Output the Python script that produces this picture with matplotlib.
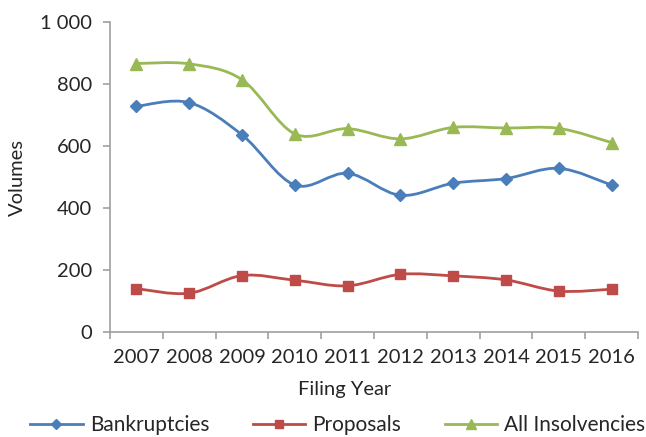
import numpy as np
import matplotlib
matplotlib.use("Agg")
import matplotlib.pyplot as plt
from matplotlib.path import Path
from matplotlib.patches import PathPatch
from matplotlib.lines import Line2D

years = ["2007", "2008", "2009", "2010", "2011", "2012", "2013", "2014", "2015", "2016"]
bankruptcies = [728, 740, 636, 474, 512, 441, 480, 495, 528, 474]
proposals = [140, 125, 182, 167, 149, 186, 181, 168, 132, 138]
all_insolvencies = [866, 865, 814, 639, 656, 623, 660, 658, 657, 611]
series_names = ["Bankruptcies", "Proposals", "All Insolvencies"]
colors = ["#4A7EBB", "#BE4B48", "#98B954"]
markers = ["D", "s", "^"]
msizes = [6, 7, 8]

plt.rcParams['font.family'] = ['Lato', 'DejaVu Sans']
text_color = "#262626"
axis_color = "#A0A0A0"
FS = 14.5

fig = plt.figure(figsize=(6.46, 4.37), dpi=100)
ax = fig.add_axes([110/646, 1-332/437, 528/646, 310/437])

x = np.arange(len(years))


def smooth_path(xs, ys):
    # Excel-style smoothed line: cubic Bezier with Catmull-Rom control points
    xs = np.asarray(xs, float)
    ys = np.asarray(ys, float)
    n = len(xs)
    verts = [(xs[0], ys[0])]
    codes = [Path.MOVETO]
    for i in range(n - 1):
        p0 = np.array([xs[max(i - 1, 0)], ys[max(i - 1, 0)]])
        p1 = np.array([xs[i], ys[i]])
        p2 = np.array([xs[i + 1], ys[i + 1]])
        p3 = np.array([xs[min(i + 2, n - 1)], ys[min(i + 2, n - 1)]])
        c1 = p1 + (p2 - p0) / 6.0
        c2 = p2 - (p3 - p1) / 6.0
        verts += [tuple(c1), tuple(c2), tuple(p2)]
        codes += [Path.CURVE4] * 3
    return Path(verts, codes)


for vals, name, c, m, ms in zip([bankruptcies, proposals, all_insolvencies],
                                series_names, colors, markers, msizes):
    patch = PathPatch(smooth_path(x, vals), facecolor="none", edgecolor=c, lw=2, zorder=2)
    ax.add_patch(patch)
    ax.plot(x, vals, linestyle="None", marker=m, markersize=ms,
            markerfacecolor=c, markeredgecolor=c, label=name, zorder=3)

ax.set_xlim(-0.5, len(years) - 0.5)
ax.set_ylim(0, 1000)
ax.set_yticks([0, 200, 400, 600, 800, 1000])
ax.set_yticklabels(["0", "200", "400", "600", "800", "1 000"])
ax.set_xticks(x)
ax.set_xticklabels(years)
ax.set_xticks(np.arange(-0.5, len(years)), minor=True)
ax.tick_params(axis="x", which="major", length=0, pad=12, labelsize=FS, colors=text_color)
ax.tick_params(axis="x", which="minor", length=5, color=axis_color, width=1.2)
ax.tick_params(axis="y", length=5, color=axis_color, width=1.2, labelsize=FS,
               colors=text_color, pad=8)
for s in ["top", "right"]:
    ax.spines[s].set_visible(False)
for s in ["left", "bottom"]:
    ax.spines[s].set_color(axis_color)
    ax.spines[s].set_linewidth(1.2)

ax.set_xlabel("Filing Year", fontsize=FS, color=text_color)
ax.xaxis.set_label_coords((344.5 - 110) / 528, -(390 - 332) / 310)
ax.xaxis.label.set_va("center")
ax.set_ylabel("Volumes", fontsize=FS, color=text_color)
ax.yaxis.set_label_coords(-(110 - 17.5) / 528, 0.5)
ax.yaxis.label.set_va("center")

leg_handles = [Line2D([0], [0], color=c, lw=2, marker=m, markersize=ms - 1,
                      markerfacecolor=c, markeredgecolor=c)
               for c, m, ms in zip(colors, markers, msizes)]
fig.legend(leg_handles, series_names, loc="center", bbox_to_anchor=(338 / 646, 1 - 425/437),
           ncol=3, frameon=False, fontsize=15, handlelength=2.5, columnspacing=2.1,
           handletextpad=0.35, labelcolor=text_color, borderpad=0, borderaxespad=0)

fig.savefig("out.png", dpi=100)
